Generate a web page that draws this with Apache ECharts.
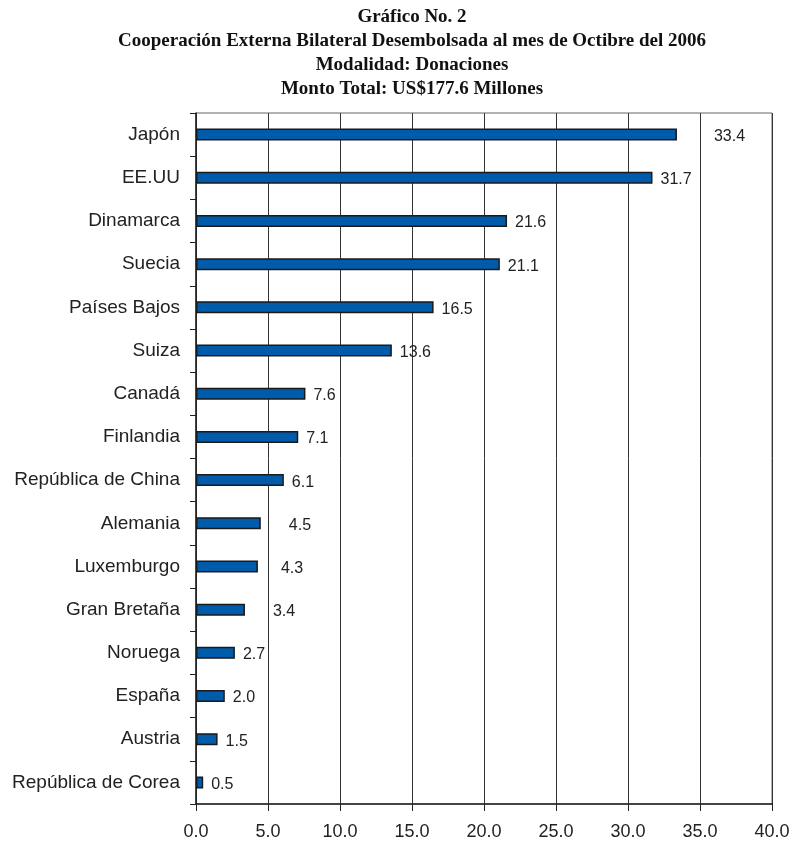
<!DOCTYPE html>
<html><head><meta charset="utf-8">
<script src="https://cdn.jsdelivr.net/npm/echarts@6/dist/echarts.min.js"></script>
<style>html,body{margin:0;padding:0;background:#fff}#c{width:793px;height:845px}</style>
</head><body><div id="c"></div>
<script>
const titleLines = [
  "Gráfico No. 2",
  "Cooperación Externa Bilateral Desembolsada al mes de Octibre del 2006",
  "Modalidad: Donaciones",
  "Monto Total: US$177.6 Millones"
];
const categories = ["Japón","EE.UU","Dinamarca","Suecia","Países Bajos","Suiza","Canadá","Finlandia","República de China","Alemania","Luxemburgo","Gran Bretaña","Noruega","España","Austria","República de Corea"];
const values = [33.4,31.7,21.6,21.1,16.5,13.6,7.6,7.1,6.1,4.5,4.3,3.4,2.7,2.0,1.5,0.5];
const xTicks = [0,5,10,15,20,25,30,35,40];

const chart = echarts.init(document.getElementById('c'), null, {renderer:'canvas'});
const extraGap = {"Japón":37,"Alemania":28,"Luxemburgo":23,"Gran Bretaña":28};
const seriesData = values.map((v,i)=>{
  const d = {value:v};
  if (extraGap[categories[i]]) d.label = {distance: extraGap[categories[i]]};
  return d;
});
chart.setOption({
  animation:false,
  title: titleLines.map((t,i)=>({
    text:t, left:407, textAlign:'center', top:3+i*24,
    textStyle:{fontFamily:'Liberation Serif', fontWeight:'bold', fontSize:19, color:'#111'}
  })),
  grid:{left:196, right:21, top:113, bottom:41, containLabel:false, show:true, borderColor:'#666', borderWidth:1, backgroundColor:'transparent'},
  xAxis:{type:'value', min:0, max:40, interval:5,
    axisLine:{show:true, lineStyle:{color:'#222', width:1.5}},
    axisTick:{show:true, length:7, lineStyle:{color:'#222'}},
    axisLabel:{fontFamily:'Liberation Sans', fontSize:18, color:'#222', margin:19,
      formatter:v=>v.toFixed(1)},
    splitLine:{show:true, lineStyle:{color:'#333', width:1}}
  },
  yAxis:{type:'category', data:categories, inverse:true,
    axisLine:{show:true, lineStyle:{color:'#222', width:1.5}},
    axisTick:{show:true, length:6, lineStyle:{color:'#222'}},
    axisLabel:{fontFamily:'Liberation Sans', fontSize:19, color:'#222', margin:16}
  },
  series:[{type:'bar', data:seriesData, barWidth:12,
    itemStyle:{color:'#005bab', borderColor:'#1a1a1a', borderWidth:1.5},
    label:{show:true, position:'right', distance:8, offset:[0,2],
      fontFamily:'Liberation Sans', fontSize:16, color:'#222',
      formatter:p=>p.value.toFixed(1)}
  }]
});
</script></body></html>
